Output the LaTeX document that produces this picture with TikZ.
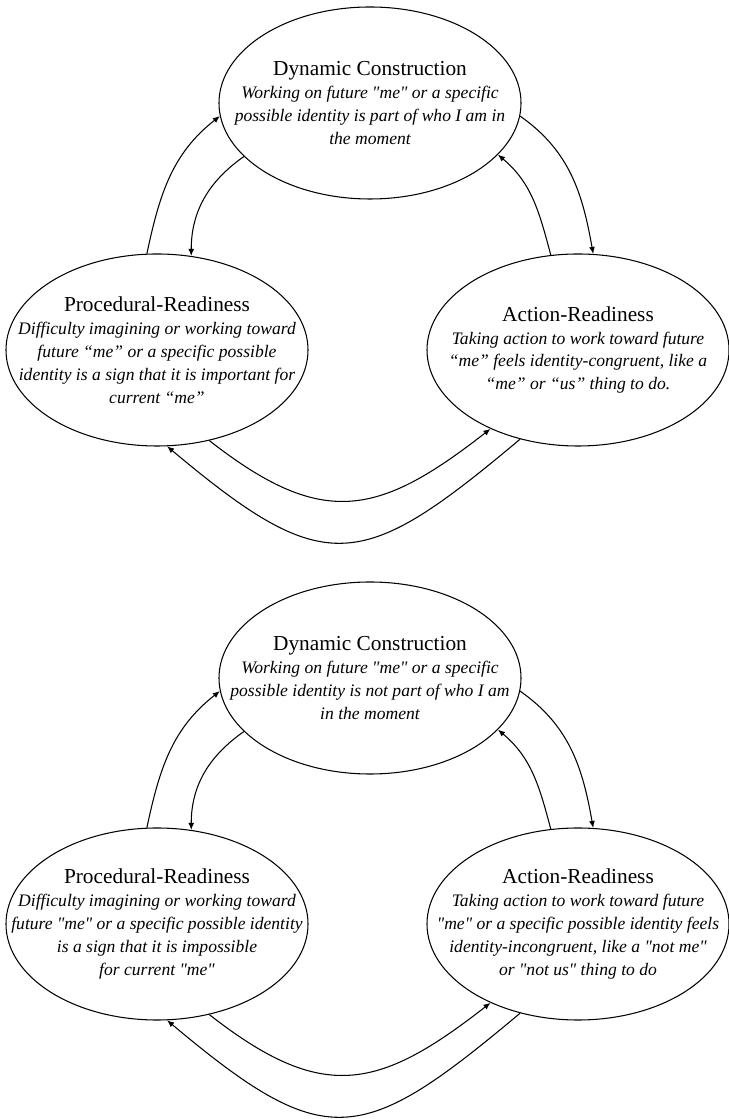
\documentclass[tikz,border=0pt]{standalone}
\usepackage{fontspec}
\newfontfamily\diafont{Liberation Serif}
\usetikzlibrary{shapes.geometric,arrows.meta}
\tikzset{
  stage/.style={draw, ellipse, minimum width=9.06cm, minimum height=5.76cm, inner sep=0pt, line width=0.9pt},
  stagetext/.style={align=center, inner sep=0pt, font=\diafont\itshape\fontsize{15}{19.6}\selectfont},
  link/.style={-{Latex[length=6pt,width=5pt]}, line width=0.9pt}
}
\newcommand{\heading}[1]{{\upshape\fontsize{18.2}{19.6}\selectfont #1}}
\begin{document}
\begin{tikzpicture}[x=0.03cm, y=0.03cm]
\useasboundingbox (0,0) rectangle (729,1119);
% upper cycle
\node[stage] (dc1) at (370,1016) {};
\node[stage] (pr1) at (157,769) {};
\node[stage] (ar1) at (578,769) {};
\node[stagetext] (dct1) at (dc1) {\heading{Dynamic Construction}\\Working on future "me" or a specific\\possible identity is part of who I am in\\the moment};
\node[stagetext] (prt1) at (pr1) {\heading{Procedural-Readiness}\\Difficulty imagining or working toward\\future “me” or a specific possible\\identity is a sign that it is important for\\current “me”};
\node[stagetext] (art1) at (ar1) {\heading{Action-Readiness}\\Taking action to work toward future\\“me” feels identity-congruent, like a\\“me” or “us” thing to do.};
% lower cycle
\node[stage] (dc2) at (370,441) {};
\node[stage] (pr2) at (157,195) {};
\node[stage] (ar2) at (578,195) {};
\node[stagetext] (dct2) at (dc2) {\heading{Dynamic Construction}\\Working on future "me" or a specific\\possible identity is not part of who I am\\in the moment};
\node[stagetext] (prt2) at (pr2) {\heading{Procedural-Readiness}\\Difficulty imagining or working toward\\future "me" or a specific possible identity\\is a sign that it is impossible\\for current "me"};
\node[stagetext] (art2) at (ar2) {\heading{Action-Readiness}\\Taking action to work toward future\\"me" or a specific possible identity feels\\identity-incongruent, like a "not me"\\or "not us" thing to do};
% arrows
\foreach \i in {1,2} {
\draw[link] (pr\i.96) to[out=78,in=218] (dc\i.185);
\draw[link] (dc\i.203) to[out=215,in=90] (pr\i.70);
\draw[link] (dc\i.355) to[out=-35,in=100] (ar\i.81);
\draw[link] (ar\i.106) to[out=105,in=-40] (dc\i.338);
\draw[link] (pr\i.300) to[out=-38,in=218,looseness=1.3] (ar\i.222);
\draw[link] (ar\i.237) to[out=220,in=-40,looseness=1.5] (pr\i.276);
}
\end{tikzpicture}
\end{document}
